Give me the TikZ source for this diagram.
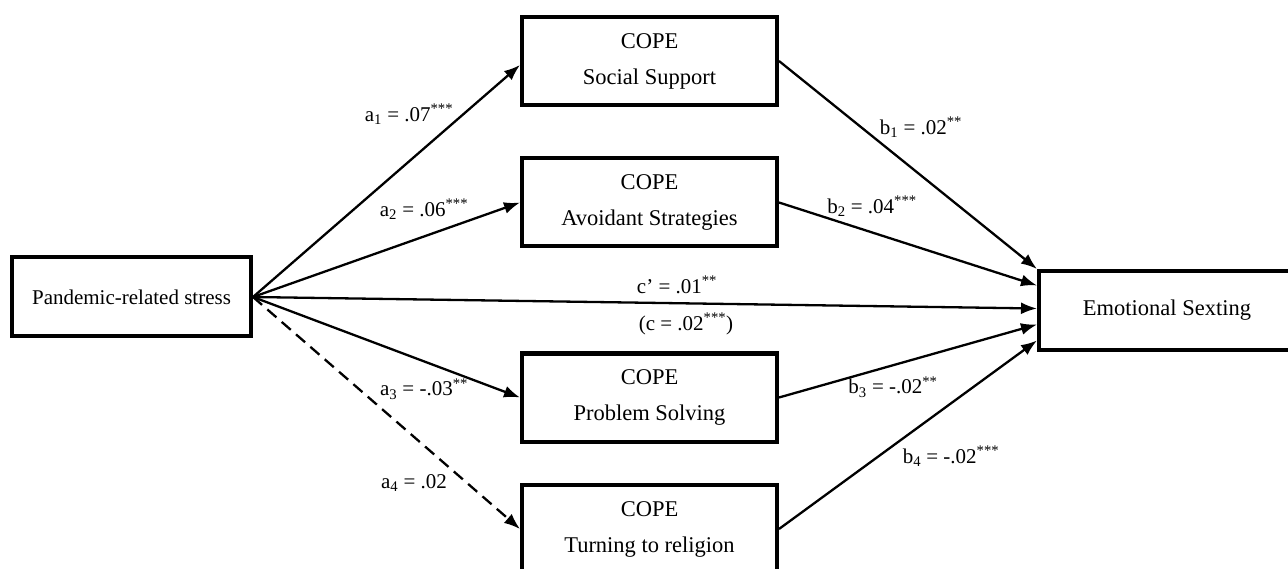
\documentclass[tikz,border=0pt]{standalone}
\usepackage{fontspec}
\setmainfont{Liberation Serif}
\usepackage{tikz}
\usetikzlibrary{arrows.meta}

\begin{document}
\begin{tikzpicture}[x=1pt,y=-1pt,
	box/.style={draw, line width=4pt, inner sep=0pt, align=center, font=\fontsize{22.5}{36}\selectfont},
	copebox/.style={box, minimum width=255pt, minimum height=88pt},
	path/.style={line width=2.3pt, -{Latex[length=16pt,width=12pt]}},
	coef/.style={font=\fontsize{21}{24}\selectfont, inner sep=1pt}]
	\useasboundingbox (0,0) rectangle (1288,569);
	\clip (0,0) rectangle (1288,569);

	\node[box, minimum width=239pt, minimum height=79pt, font=\fontsize{21}{25}\selectfont] (stress) at (131.5,297) {Pandemic-related stress};
	\node[copebox] (social) at (649.5,61) {COPE\\Social Support};
	\node[copebox] (avoid) at (649.5,202.5) {COPE\\Avoidant Strategies};
	\node[copebox] (problem) at (649.5,397.5) {COPE\\Problem Solving};
	\node[copebox] (religion) at (649.5,529) {COPE\\Turning to religion};
	\node[box, minimum width=256pt, minimum height=79pt] (sexting) at (1167,310.5) {Emotional Sexting};

	\draw[path] (stress.east) -- ([yshift=-4pt]social.west);
	\draw[path] (stress.east) -- (avoid.west);
	\draw[path] (stress.east) -- (problem.west);
	\draw[path, dash pattern=on 12pt off 7pt] (stress.east) -- (religion.west);
	\draw[path] (stress.east) -- ([yshift=2pt]sexting.west);

	\draw[path] (social.east) -- (sexting.north west);
	\draw[path] (avoid.east) -- ([yshift=25pt]sexting.west);
	\draw[path] (problem.east) -- ([yshift=-14pt]sexting.west);
	\draw[path] (religion.east) -- ([yshift=-30pt]sexting.west);

	\node[coef] (a1) at (409,114) {a\textsubscript{1} = .07\textsuperscript{***}};
	\node[coef] (a2) at (424,209) {a\textsubscript{2} = .06\textsuperscript{***}};
	\node[coef] (a3) at (424,389) {a\textsubscript{3} = -.03\textsuperscript{**}};
	\node[coef] (a4) at (414,483) {a\textsubscript{4} = .02};
	\node[coef] (cdir) at (677,285) {c' = .01\textsuperscript{**}};
	\node[coef] (ctot) at (686,324) {(c = .02\textsuperscript{***})};
	\node[coef] (b1) at (921,127) {b\textsubscript{1} = .02\textsuperscript{**}};
	\node[coef] (b2) at (872,206) {b\textsubscript{2} = .04\textsuperscript{***}};
	\node[coef] (b3) at (893,387) {b\textsubscript{3} = -.02\textsuperscript{**}};
	\node[coef] (b4) at (951,456) {b\textsubscript{4} = -.02\textsuperscript{***}};
\end{tikzpicture}
\end{document}
